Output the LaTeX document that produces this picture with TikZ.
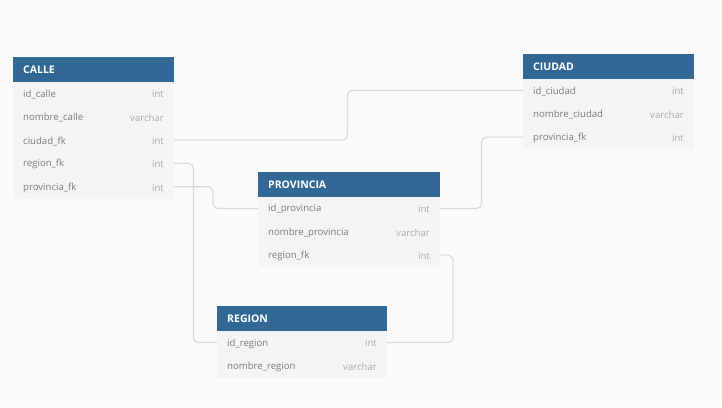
\documentclass[tikz,border=0pt]{standalone}
\usepackage{fontspec}
\setmainfont{Open Sans}
\definecolor{bg}{HTML}{FAFAFA}
\definecolor{hdr}{HTML}{316896}
\definecolor{body}{HTML}{F4F4F4}
\definecolor{fld}{HTML}{7C7C7C}
\definecolor{typ}{HTML}{ADADAD}
\definecolor{lnk}{HTML}{DADADA}
\tikzset{
  hdrbox/.style={fill=hdr, draw=none},
  bodybox/.style={fill=body, draw=none},
  hdrtext/.style={anchor=west, text=white, font=\fontsize{10.5}{12}\selectfont\bfseries, inner sep=0pt},
  fldtext/.style={anchor=west, text=fld, font=\fontsize{9.6}{11}\selectfont, inner sep=0pt},
  typtext/.style={anchor=east, text=typ, font=\fontsize{9.6}{11}\selectfont, inner sep=0pt},
  link/.style={draw=lnk, line width=1.1pt, rounded corners=5pt},
}
\newcommand{\ertable}[6]{% name, x1, y1(top), x2, title, nrows
  \fill[hdrbox] (#2,#3) rectangle (#4,#3+25);
  \fill[bodybox] (#2,#3+25) rectangle (#4,#3+25+23.3*#6);
  \node[hdrtext] (#1-t) at (#2+10,#3+12.5) {#5};
}
\begin{document}
\begin{tikzpicture}[x=1pt,y=-1pt]
\fill[bg] (0,0) rectangle (722,407);
\useasboundingbox (0,0) rectangle (722,407);
% CALLE
\ertable{calle}{13}{57}{174}{CALLE}{5}
\foreach \i/\f/\t/\n in {0/id\_calle/int/a,1/nombre\_calle/varchar/b,2/ciudad\_fk/int/c,3/region\_fk/int/d,4/provincia\_fk/int/e}{
  \node[fldtext] (calle-f\n) at (23,{94.5+23.3*\i}) {\f};
  \node[typtext] (calle-t\n) at (164,{94.5+23.3*\i}) {\t};
  \coordinate (calle-r\n) at (174,{93.5+23.3*\i});
}
% CIUDAD
\ertable{ciudad}{523}{54}{694}{CIUDAD}{3}
\foreach \i/\f/\t/\n in {0/id\_ciudad/int/a,1/nombre\_ciudad/varchar/b,2/provincia\_fk/int/c}{
  \node[fldtext] (ciudad-f\n) at (533,{91.5+23.3*\i}) {\f};
  \node[typtext] (ciudad-t\n) at (684,{91.5+23.3*\i}) {\t};
  \coordinate (ciudad-l\n) at (523,{90.5+23.3*\i});
}
% PROVINCIA
\ertable{prov}{258}{172}{440}{PROVINCIA}{3}
\foreach \i/\f/\t/\n in {0/id\_provincia/int/a,1/nombre\_provincia/varchar/b,2/region\_fk/int/c}{
  \node[fldtext] (prov-f\n) at (268,{209.5+23.3*\i}) {\f};
  \node[typtext] (prov-t\n) at (430,{209.5+23.3*\i}) {\t};
  \coordinate (prov-l\n) at (258,{208.5+23.3*\i});
  \coordinate (prov-r\n) at (440,{208.5+23.3*\i});
}
% REGION
\ertable{region}{217}{306}{387}{REGION}{2}
\foreach \i/\f/\t/\n in {0/id\_region/int/a,1/nombre\_region/varchar/b}{
  \node[fldtext] (region-f\n) at (227,{343.5+23.3*\i}) {\f};
  \node[typtext] (region-t\n) at (377,{343.5+23.3*\i}) {\t};
  \coordinate (region-l\n) at (217,{342.5+23.3*\i});
  \coordinate (region-r\n) at (387,{342.5+23.3*\i});
}
% links
\draw[link] (calle-rc) -- (347.5,0 |- calle-rc) -- (347.5,0 |- ciudad-la) -- (ciudad-la);
\draw[link] (calle-rd) -- (193.5,0 |- calle-rd) -- (193.5,0 |- region-la) -- (region-la);
\draw[link] (calle-re) -- (213,0 |- calle-re) -- (213,0 |- prov-la) -- (prov-la);
\draw[link] (prov-ra) -- (481.5,0 |- prov-ra) -- (481.5,0 |- ciudad-lc) -- (ciudad-lc);
\draw[link] (prov-rc) -- (453,0 |- prov-rc) -- (453,0 |- region-ra) -- (region-ra);
\end{tikzpicture}
\end{document}
